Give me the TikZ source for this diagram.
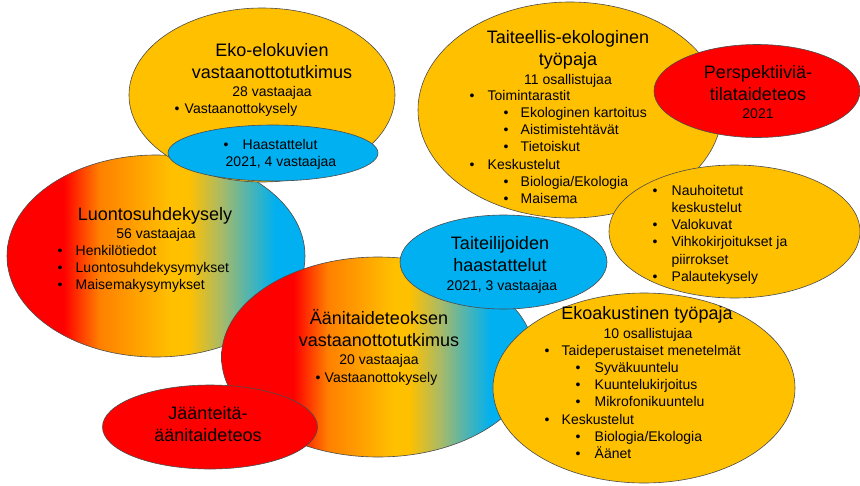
\documentclass[tikz,border=0pt]{standalone}
\usepackage{fontspec}
\setmainfont{Liberation Sans}
\usetikzlibrary{shapes.geometric}
\definecolor{orng}{HTML}{FFC000}
\definecolor{skyb}{HTML}{00B0F0}
\definecolor{redd}{HTML}{FF0000}
\definecolor{rbOrange}{HTML}{FF8000}
\definecolor{rbGreen}{HTML}{A8BA68}
\definecolor{rbTeal}{HTML}{5AB5A8}
\pgfdeclarehorizontalshading{rainbowA}{100bp}{color(0bp)=(redd); color(34.5bp)=(redd); color(40.5bp)=(rbOrange); color(52.5bp)=(orng); color(55.5bp)=(orng); color(61bp)=(rbGreen); color(65bp)=(rbTeal); color(70bp)=(skyb); color(100bp)=(skyb)}
\pgfdeclarehorizontalshading{rainbowB}{100bp}{color(0bp)=(redd); color(36.5bp)=(redd); color(42bp)=(rbOrange); color(52.5bp)=(orng); color(55bp)=(orng); color(60bp)=(rbGreen); color(63.5bp)=(rbTeal); color(68bp)=(skyb); color(100bp)=(skyb)}
\newcommand\mybul[2]{\hspace*{#1}\makebox[#2][l]{•}}
\begin{document}
\begin{tikzpicture}[x=1pt, y=-1pt,
  ell/.style={ellipse, draw=black!70, line width=0.6pt, inner sep=0pt},
  ttl/.style={anchor=base, inner sep=0pt, font=\fontsize{18}{21.7}\selectfont},
  sub/.style={anchor=base, inner sep=0pt, font=\fontsize{14}{17}\selectfont},
  lst/.style={anchor=base west, inner sep=0pt, font=\fontsize{14}{17.3}\selectfont}]
\useasboundingbox (0,0) rectangle (860,485);
\fill[white] (0,0) rectangle (860,485);

% Luontosuhdekysely
\node[ell, shade, shading=rainbowA, minimum width=298pt, minimum height=202pt] (luontoE) at (156,256) {};
\node[ttl] (luontoT) at (155,220.5) {Luontosuhdekysely};
\node[sub] (luontoS) at (156,238) {56 vastaajaa};
\node[lst] (luontoL) at (57.5,255) {\begin{tabular}[t]{@{}l@{}}\mybul{0pt}{18pt}Henkilötiedot\\\mybul{0pt}{18pt}Luontosuhdekysymykset\\\mybul{0pt}{18pt}Maisemakysymykset\end{tabular}};

% Eko-elokuvien
\node[ell, fill=orng, minimum width=266pt, minimum height=174pt] (ekoE) at (262,95) {};
\node[ttl] (ekoT) at (272,56.5) {\begin{tabular}[t]{@{}c@{}}Eko-elokuvien\\vastaanottotutkimus\end{tabular}};
\node[sub] (ekoS) at (272,96) {28 vastaajaa};
\node[lst] (ekoL) at (174.5,113) {\mybul{0pt}{10pt}Vastaanottokysely};
\node[ell, fill=skyb, minimum width=210pt, minimum height=56pt] (haastE) at (273,153) {};
\node[lst] (haastL) at (223.5,149) {\begin{tabular}[t]{@{}l@{}}\mybul{0pt}{19pt}Haastattelut\\\hspace*{2pt}2021, 4 vastaajaa\end{tabular}};

% Äänitaideteoksen
\node[ell, shade, shading=rainbowB, minimum width=313pt, minimum height=200pt] (aaniE) at (378,357) {};
\node[ttl] (aaniT) at (379,324.5) {\begin{tabular}[t]{@{}c@{}}Äänitaideteoksen\\vastaanottotutkimus\end{tabular}};
\node[sub] (aaniS) at (379,364) {20 vastaajaa};
\node[lst] (aaniL) at (315.5,382) {\mybul{0pt}{9pt}Vastaanottokysely};

% Ekoakustinen
\node[ell, fill=orng, minimum width=302pt, minimum height=190pt] (ekoakE) at (644,388) {};
\node[ttl] (ekoakT) at (647,319.5) {Ekoakustinen työpaja};
\node[sub] (ekoakS) at (648,338) {10 osallistujaa};
\node[lst] (ekoakL) at (544.5,355) {\begin{tabular}[t]{@{}l@{}}\mybul{0pt}{17pt}Taideperustaiset menetelmät\\\mybul{31pt}{19pt}Syväkuuntelu\\\mybul{31pt}{19pt}Kuuntelukirjoitus\\\mybul{31pt}{19pt}Mikrofonikuuntelu\\\mybul{0pt}{17pt}Keskustelut\\\mybul{31pt}{19pt}Biologia/Ekologia\\\mybul{31pt}{19pt}Äänet\end{tabular}};

% Jäänteitä
\node[ell, fill=redd, minimum width=215pt, minimum height=84pt] (jaanE) at (210,427) {};
\node[ttl] (jaanT) at (208,419.5) {\begin{tabular}[t]{@{}c@{}}Jäänteitä-\\äänitaideteos\end{tabular}};

% Taiteellis-ekologinen
\node[ell, fill=orng, minimum width=304pt, minimum height=216pt] (taitE) at (570,110) {};
\node[ttl] (taitT) at (568,43.5) {\begin{tabular}[t]{@{}c@{}}Taiteellis-ekologinen\\työpaja\end{tabular}};
\node[sub] (taitS) at (568,84) {11 osallistujaa};
\node[lst] (taitL) at (469.5,100) {\begin{tabular}[t]{@{}l@{}}\mybul{0pt}{18pt}Toimintarastit\\\mybul{34pt}{17pt}Ekologinen kartoitus\\\mybul{34pt}{17pt}Aistimistehtävät\\\mybul{34pt}{17pt}Tietoiskut\\\mybul{0pt}{18pt}Keskustelut\\\mybul{34pt}{17pt}Biologia/Ekologia\\\mybul{34pt}{17pt}Maisema\end{tabular}};

% Nauhoitetut
\node[ell, fill=orng, minimum width=251pt, minimum height=133pt] (nauhE) at (734.5,231.5) {};
\node[lst] (nauhL) at (652.5,195) {\begin{tabular}[t]{@{}l@{}}\mybul{0pt}{19pt}Nauhoitetut\\\hspace*{19pt}keskustelut\\\mybul{0pt}{19pt}Valokuvat\\\mybul{0pt}{19pt}Vihkokirjoitukset ja\\\hspace*{19pt}piirrokset\\\mybul{0pt}{19pt}Palautekysely\end{tabular}};

% Perspektiiviä
\node[ell, fill=redd, minimum width=206pt, minimum height=93pt] (perspE) at (757,91) {};
\node[ttl] (perspT) at (758,78.5) {\begin{tabular}[t]{@{}c@{}}Perspektiiviä-\\tilataideteos\end{tabular}};
\node[sub] (perspS) at (758,118) {2021};

% Taiteilijoiden haastattelut
\node[ell, fill=skyb, minimum width=207pt, minimum height=94pt] (taiteilE) at (503.5,262) {};
\node[ttl] (taiteilT) at (500,249.5) {\begin{tabular}[t]{@{}c@{}}Taiteilijoiden\\haastattelut\end{tabular}};
\node[sub] (taiteilS) at (502,290) {2021, 3 vastaajaa};
\end{tikzpicture}
\end{document}
